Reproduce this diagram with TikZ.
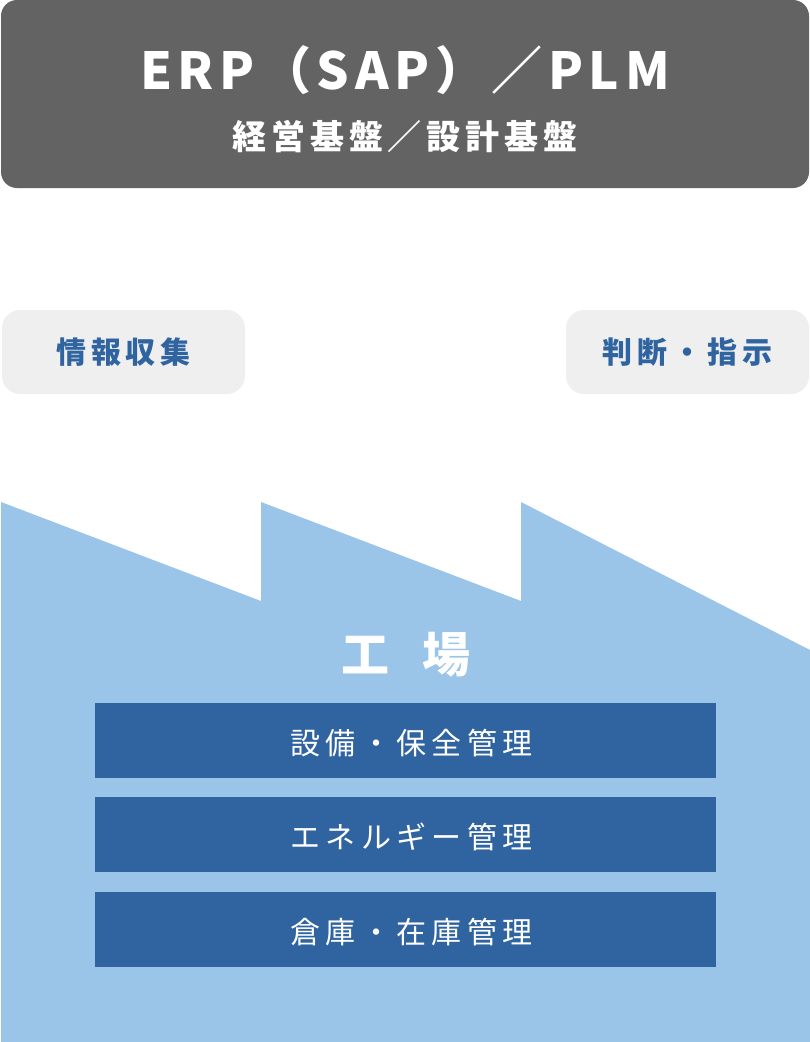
\documentclass[tikz,border=0pt]{standalone}
\usepackage{fontspec}
\setmainfont{Noto Sans CJK JP}
\usetikzlibrary{positioning}
\definecolor{boardgray}{HTML}{636363}
\definecolor{lightgray}{HTML}{EFEFEF}
\definecolor{factoryblue}{HTML}{9BC4E9}
\definecolor{barblue}{HTML}{2F64A0}

\tikzset{
  graybox/.style={fill=lightgray, rounded corners=18pt, minimum width=243pt, minimum height=84pt,
    inner sep=0pt, text=barblue, font=\fontsize{30}{34}\selectfont\bfseries\addfontfeatures{LetterSpace=16}},
  barbox/.style={fill=barblue, minimum width=621pt, minimum height=75pt, inner sep=0pt,
    text height=28pt, text depth=0pt,
    text=white, font=\fontsize{30}{34}\selectfont\addfontfeatures{LetterSpace=18},
    execute at begin node=\hspace{12pt}},
}

\begin{document}
\begin{tikzpicture}[x=1pt, y=-1pt]
    \useasboundingbox (0,0) rectangle (810,1042);

    % top board
    \node [fill=boardgray, rounded corners=16pt, minimum width=808pt, minimum height=188pt, inner sep=0pt] (erp) at (405,94) {};
    \node [text=white, inner sep=0pt, font=\fontsize{51}{60}\selectfont\bfseries\addfontfeatures{LetterSpace=11}] (erptitle) at (405,70) {ERP（SAP）／PLM};
    \node [text=white, inner sep=0pt, font=\fontsize{34}{40}\selectfont\bfseries\addfontfeatures{LetterSpace=14}] (erpsub) at (405,137) {経営基盤／設計基盤};

    % side boxes
    \node [graybox] (collect) at (123.5,352) {情報収集};
    \node [graybox] (judge) at (687.5,352) {判断・指示};

    % factory outline
    \fill [factoryblue] (1,502) -- (261,601) -- (261,502) -- (521,601) -- (521,502) -- (810,650) -- (810,1042) -- (1,1042) -- cycle;
    \node [text=white, inner sep=0pt, font=\fontsize{48}{56}\selectfont\bfseries] (factory) at (406,655) {工\hspace{34pt}場};

    \node [barbox] (equip) at (405.5,740.5) {設備・保全管理};
    \node [barbox, below=19pt of equip] (energy) {エネルギー管理};
    \node [barbox, below=19pt of energy] (stock) {倉庫・在庫管理};
\end{tikzpicture}
\end{document}
